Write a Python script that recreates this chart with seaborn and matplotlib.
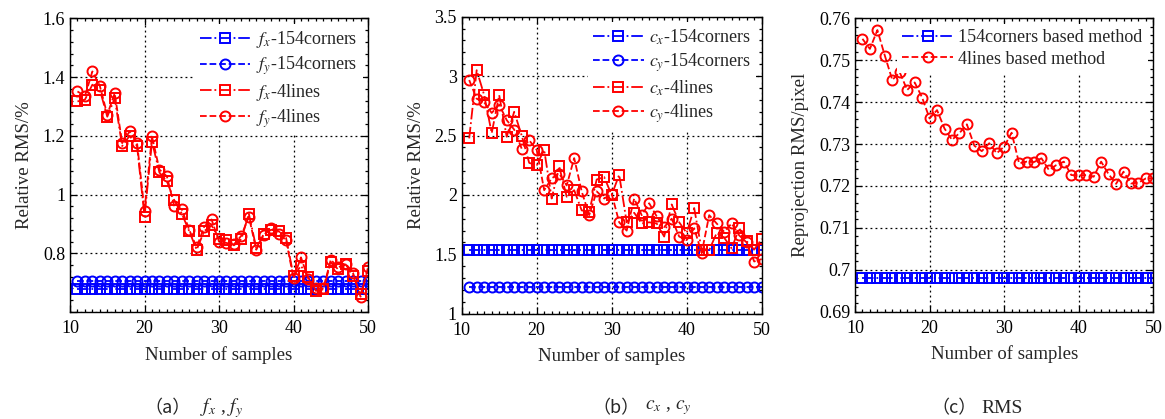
import matplotlib
matplotlib.use("Agg")
import matplotlib.pyplot as plt
import seaborn as sns
import pandas as pd
from matplotlib.ticker import MultipleLocator, FuncFormatter

# ---------------- data ----------------
samples = list(range(11, 51))

fx_154corners = [0.677, 0.677, 0.677, 0.677, 0.677, 0.677, 0.677, 0.677, 0.677, 0.677,
                 0.677, 0.677, 0.677, 0.677, 0.677, 0.677, 0.677, 0.677, 0.677, 0.677,
                 0.677, 0.677, 0.677, 0.677, 0.677, 0.677, 0.677, 0.677, 0.677, 0.677,
                 0.677, 0.677, 0.677, 0.677, 0.677, 0.677, 0.677, 0.677, 0.677, 0.677]
fy_154corners = [0.705, 0.705, 0.705, 0.705, 0.705, 0.705, 0.705, 0.705, 0.705, 0.705,
                 0.705, 0.705, 0.705, 0.705, 0.705, 0.705, 0.705, 0.705, 0.705, 0.705,
                 0.705, 0.705, 0.705, 0.705, 0.705, 0.705, 0.705, 0.705, 0.705, 0.705,
                 0.705, 0.705, 0.705, 0.705, 0.705, 0.705, 0.705, 0.705, 0.705, 0.705]
fx_4lines = [1.317, 1.323, 1.374, 1.357, 1.265, 1.328, 1.165, 1.200, 1.165, 0.925,
             1.180, 1.075, 1.045, 0.980, 0.935, 0.875, 0.812, 0.875, 0.895, 0.850,
             0.844, 0.827, 0.848, 0.935, 0.818, 0.865, 0.880, 0.875, 0.852, 0.723,
             0.757, 0.718, 0.672, 0.677, 0.770, 0.745, 0.762, 0.723, 0.660, 0.740]
fy_4lines = [1.351, 1.335, 1.419, 1.370, 1.272, 1.345, 1.175, 1.215, 1.175, 0.945,
             1.198, 1.085, 1.062, 0.960, 0.950, 0.880, 0.820, 0.890, 0.915, 0.840,
             0.835, 0.830, 0.860, 0.925, 0.812, 0.862, 0.885, 0.865, 0.845, 0.715,
             0.786, 0.712, 0.680, 0.680, 0.778, 0.752, 0.765, 0.732, 0.652, 0.752]

cx_154corners = [1.535, 1.535, 1.535, 1.535, 1.535, 1.535, 1.535, 1.535, 1.535, 1.535,
                 1.535, 1.535, 1.535, 1.535, 1.535, 1.535, 1.535, 1.535, 1.535, 1.535,
                 1.535, 1.535, 1.535, 1.535, 1.535, 1.535, 1.535, 1.535, 1.535, 1.535,
                 1.535, 1.535, 1.535, 1.535, 1.535, 1.535, 1.535, 1.535, 1.535, 1.535]
cy_154corners = [1.225, 1.225, 1.225, 1.225, 1.225, 1.225, 1.225, 1.225, 1.225, 1.225,
                 1.225, 1.225, 1.225, 1.225, 1.225, 1.225, 1.225, 1.225, 1.225, 1.225,
                 1.225, 1.225, 1.225, 1.225, 1.225, 1.225, 1.225, 1.225, 1.225, 1.225,
                 1.225, 1.225, 1.225, 1.225, 1.225, 1.225, 1.225, 1.225, 1.225, 1.225]
cx_4lines = [2.476, 3.050, 2.840, 2.520, 2.840, 2.490, 2.700, 2.500, 2.270, 2.250,
             2.380, 1.970, 2.240, 1.985, 2.040, 1.870, 1.860, 2.130, 2.150, 2.000,
             2.170, 1.770, 1.850, 1.760, 1.770, 1.760, 1.650, 1.920, 1.770, 1.680,
             1.890, 1.535, 1.535, 1.680, 1.640, 1.550, 1.720, 1.610, 1.540, 1.630]
cy_4lines = [2.967, 2.810, 2.780, 2.690, 2.760, 2.630, 2.550, 2.390, 2.460, 2.380,
             2.040, 2.140, 2.180, 2.080, 2.310, 2.030, 1.830, 2.030, 1.970, 2.010,
             1.770, 1.700, 1.970, 1.830, 1.930, 1.820, 1.730, 1.800, 1.650, 1.620,
             1.720, 1.510, 1.830, 1.760, 1.690, 1.760, 1.660, 1.600, 1.440, 1.460]

rms_154corners = [0.698, 0.698, 0.698, 0.698, 0.698, 0.698, 0.698, 0.698, 0.698, 0.698,
                  0.698, 0.698, 0.698, 0.698, 0.698, 0.698, 0.698, 0.698, 0.698, 0.698,
                  0.698, 0.698, 0.698, 0.698, 0.698, 0.698, 0.698, 0.698, 0.698, 0.698,
                  0.698, 0.698, 0.698, 0.698, 0.698, 0.698, 0.698, 0.698, 0.698, 0.698]
rms_4lines = [0.7551, 0.7527, 0.7572, 0.7511, 0.7453, 0.7471, 0.7429, 0.7447, 0.7411, 0.7361,
              0.7381, 0.7337, 0.7310, 0.7326, 0.7347, 0.7296, 0.7283, 0.7302, 0.7278, 0.7294,
              0.7327, 0.7254, 0.7258, 0.7257, 0.7266, 0.7238, 0.7250, 0.7258, 0.7226, 0.7225,
              0.7226, 0.7222, 0.7258, 0.7228, 0.7205, 0.7234, 0.7206, 0.7208, 0.7218, 0.7218]

labels_a = ["$f_x$-154corners", "$f_y$-154corners", "$f_x$-4lines", "$f_y$-4lines"]
labels_b = ["$c_x$-154corners", "$c_y$-154corners", "$c_x$-4lines", "$c_y$-4lines"]
labels_c = ["154corners based method", "4lines based method"]
xlabel = "Number of samples"
ylabels = ["Relative RMS/%", "Relative RMS/%", "Reprojection RMS/pixel"]

# ---------------- style ----------------
sns.set_style("ticks")
plt.rcParams["font.family"] = ["Liberation Serif", "DejaVu Serif"]
plt.rcParams["font.serif"] = ["Liberation Serif", "DejaVu Serif"]
plt.rcParams["mathtext.fontset"] = "stix"
plt.rcParams["xtick.direction"] = "in"
plt.rcParams["ytick.direction"] = "in"

BLUE = "#0000ff"
RED = "#ff0000"
SERIF = ["Liberation Serif", "DejaVu Serif"]

fig = plt.figure(figsize=(11.65, 4.19), dpi=100)
ax_a = fig.add_axes([0.0601, 0.2554, 0.2558, 0.7009])
ax_b = fig.add_axes([0.3963, 0.2511, 0.2575, 0.7090])
ax_c = fig.add_axes([0.7339, 0.2561, 0.2561, 0.7002])


def draw(ax, y, label, color, marker, ls):
    df = pd.DataFrame({"x": samples, "y": y})
    sns.lineplot(data=df, x="x", y="y", ax=ax, color=color, marker=marker,
                 linestyle=ls, linewidth=1.3, markersize=7.2,
                 markerfacecolor="none", markeredgecolor=color,
                 markeredgewidth=1.4, label=label)


def style_axis(ax, ylim, ymaj, ymin, ylab, hide_bottom_label=False):
    ax.set_xlim(10, 50)
    ax.set_ylim(*ylim)
    ax.xaxis.set_major_locator(MultipleLocator(10))
    ax.xaxis.set_minor_locator(MultipleLocator(1))
    ax.yaxis.set_major_locator(MultipleLocator(ymaj))
    ax.yaxis.set_minor_locator(MultipleLocator(ymin))
    lo = ylim[0]

    def fmt(v, pos):
        if hide_bottom_label and abs(v - lo) < 1e-9:
            return ""
        return "%g" % round(v, 6)
    ax.yaxis.set_major_formatter(FuncFormatter(fmt))
    ax.tick_params(which="both", top=True, right=True, direction="in",
                   labelsize=13, width=0.9, colors="black")
    ax.tick_params(which="major", length=5)
    ax.tick_params(which="minor", length=2.5)
    ax.tick_params(axis="x", which="major", pad=6)
    ax.grid(True, which="major", linestyle=(0, (1.5, 2.5)), color="black",
            linewidth=0.9)
    for s in ax.spines.values():
        s.set_linewidth(1.0)
        s.set_color("black")
    ax.set_xlabel(xlabel, fontsize=13.5, labelpad=6, family=SERIF)
    ax.set_ylabel(ylab, fontsize=13.5, labelpad=7, family=SERIF)
    for t in ax.get_xticklabels() + ax.get_yticklabels():
        t.set_family(SERIF)


# Panel (a)
draw(ax_a, fx_154corners, labels_a[0], BLUE, "s", "-.")
draw(ax_a, fy_154corners, labels_a[1], BLUE, "o", "--")
draw(ax_a, fx_4lines, labels_a[2], RED, "s", "-.")
draw(ax_a, fy_4lines, labels_a[3], RED, "o", "--")
style_axis(ax_a, (0.6, 1.6), 0.2, 0.04, ylabels[0], hide_bottom_label=True)

# Panel (b)
draw(ax_b, cx_154corners, labels_b[0], BLUE, "s", "-.")
draw(ax_b, cy_154corners, labels_b[1], BLUE, "o", "--")
draw(ax_b, cx_4lines, labels_b[2], RED, "s", "-.")
draw(ax_b, cy_4lines, labels_b[3], RED, "o", "--")
style_axis(ax_b, (1.0, 3.5), 0.5, 0.1, ylabels[1])

# Panel (c)
draw(ax_c, rms_154corners, labels_c[0], BLUE, "s", "-.")
draw(ax_c, rms_4lines, labels_c[1], RED, "o", "--")
style_axis(ax_c, (0.69, 0.76), 0.01, 0.002, ylabels[2])

for ax in (ax_a, ax_b, ax_c):
    leg = ax.legend(loc="upper right", frameon=True, fancybox=False,
                    framealpha=1.0, edgecolor="none", fontsize=13,
                    handlelength=2.8, handletextpad=0.3, labelspacing=0.25,
                    borderpad=0.3, borderaxespad=0.3)
    leg.set_zorder(10)

# captions
cap_y = 1 - 408 / 419
fig.text(168 / 1165, cap_y, "（a）", ha="center", va="center", fontsize=13,
         family=["Noto Sans CJK SC", "DejaVu Sans"])
fig.text(222 / 1165, cap_y, "$f_x$ , $f_y$", ha="center", va="center", fontsize=14)
fig.text(616 / 1165, cap_y, "（b）", ha="center", va="center", fontsize=13,
         family=["Noto Sans CJK SC", "DejaVu Sans"])
fig.text(668 / 1165, cap_y, "$c_x$ , $c_y$", ha="center", va="center", fontsize=14)
fig.text(954 / 1165, cap_y, "（c）", ha="center", va="center", fontsize=13,
         family=["Noto Sans CJK SC", "DejaVu Sans"])
fig.text(1002 / 1165, cap_y, "RMS", ha="center", va="center", fontsize=14,
         family=SERIF)

fig.savefig("out.png", dpi=100)
